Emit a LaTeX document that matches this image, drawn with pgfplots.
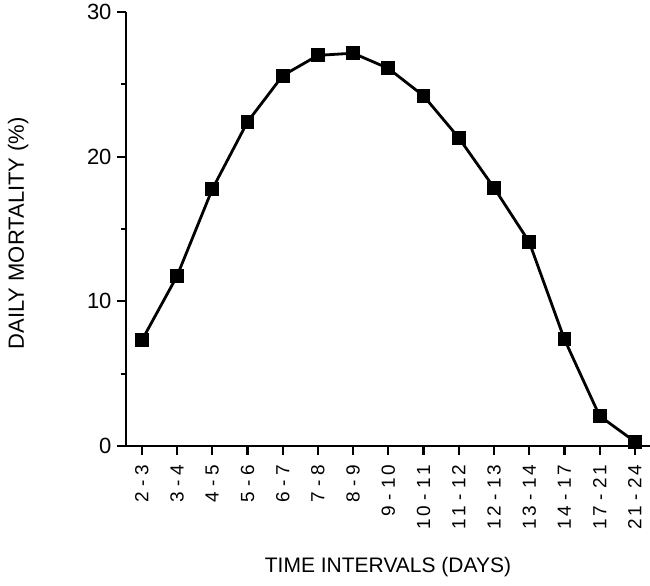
\documentclass[border=0pt]{standalone}
\usepackage{pgfplots}
\pgfplotsset{compat=1.18}
\usepackage{fontspec}
\setmainfont{Liberation Sans}
\begin{document}
\begin{tikzpicture}
\begin{axis}[
  scale only axis, width=524pt, height=434pt,
  xmin=-0.45, xmax=14.43, ymin=0, ymax=30,
  axis lines=left, axis line style={line width=2.6pt, -},
  xtick={0,...,14},
  xticklabels={2 - 3,3 - 4,4 - 5,5 - 6,6 - 7,7 - 8,8 - 9,9 - 1\,0,1\,0 - 1\,1,1\,1 - 1\,2,1\,2 - 1\,3,1\,3 - 1\,4,1\,4 - 1\,7,1\,7 - 2\,1,2\,1 - 2\,4},
  x tick label style={rotate=90, anchor=east, font=\fontsize{19}{20}\selectfont, xshift=-6pt},
  ytick={0,10,20,30}, minor ytick={5,15,25},
  y tick label style={font=\fontsize{22}{24}\selectfont, xshift=-2pt},
  tick align=outside, major tick length=9pt, minor tick length=5pt,
  tick style={line width=2.2pt, black},
  /pgf/number format/assume math mode=true,
  xlabel={TIME INTERVALS (DAYS)}, ylabel={DAILY MORTALITY (\%)},
  xlabel style={font=\fontsize{21}{24}\selectfont, at={(axis description cs:0.5,-0.279)}, anchor=center},
  ylabel style={font=\fontsize{22}{24}\selectfont, at={(axis description cs:-0.206,0.49)}, anchor=center},
  clip=false,
]
\addplot[black, line width=2.8pt, mark=square*, mark size=5.5pt, mark options={solid}] coordinates {
(0,7.3) (1,11.75) (2,17.75) (3,22.4) (4,25.6) (5,27.0) (6,27.15) (7,26.1) (8,24.2) (9,21.3) (10,17.85) (11,14.1) (12,7.37) (13,2.07) (14,0.3)
};
\coordinate (bl) at (rel axis cs:-0.2405,-0.3226);
\coordinate (tr) at (rel axis cs:1,1.0276);
\end{axis}
\pgfresetboundingbox
\path[use as bounding box] (bl) rectangle (tr);
\end{tikzpicture}
\end{document}
